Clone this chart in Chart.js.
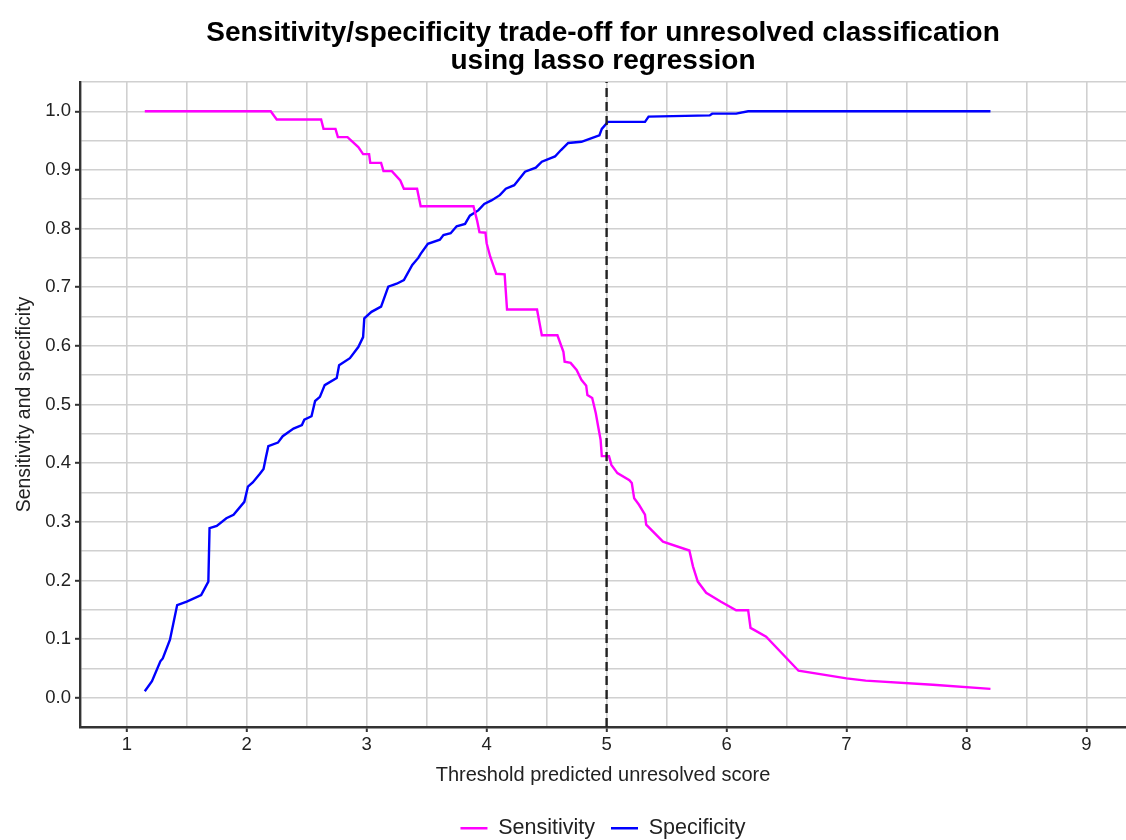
<!DOCTYPE html>
<html>
<head>
<meta charset="utf-8">
<title>Sensitivity/specificity trade-off</title>
<script src="https://cdn.jsdelivr.net/npm/chart.js@4.4.1/dist/chart.umd.min.js"></script>
<style>
  html, body { margin: 0; padding: 0; background: #fff; }
  #wrap { width: 1126px; height: 840px; }
</style>
</head>
<body>
<div id="wrap"><canvas id="tradeOff" width="1126" height="840"></canvas></div>
<script>
// values
const sensX = [1.15, 2.20, 2.25, 2.62, 2.64, 2.74, 2.76, 2.84, 2.93, 2.97, 3.02, 3.03, 3.12, 3.14, 3.21, 3.28, 3.31, 3.42, 3.45, 3.89,
  3.92, 3.94, 3.99, 4.00, 4.03, 4.08, 4.15, 4.17, 4.42, 4.46, 4.59, 4.64, 4.65, 4.70, 4.75, 4.79, 4.83, 4.84, 4.88, 4.91,
  4.93, 4.95, 4.96, 5.02, 5.04, 5.09, 5.19, 5.21, 5.23, 5.27, 5.32, 5.33, 5.47, 5.69, 5.72, 5.76, 5.83, 5.95, 6.08, 6.18,
  6.20, 6.33, 6.60, 7.00, 7.16, 7.72, 8.20]
const sensY = [1.0, 1.0, 0.986, 0.986, 0.970, 0.970, 0.956, 0.956, 0.939, 0.927, 0.927, 0.912, 0.912, 0.898, 0.898, 0.882, 0.868, 0.868, 0.838, 0.838,
  0.814, 0.794, 0.793, 0.775, 0.752, 0.723, 0.722, 0.662, 0.662, 0.618, 0.618, 0.590, 0.573, 0.571, 0.559, 0.542, 0.532, 0.516, 0.511, 0.485,
  0.462, 0.440, 0.412, 0.412, 0.397, 0.383, 0.371, 0.366, 0.340, 0.329, 0.312, 0.295, 0.266, 0.251, 0.224, 0.198, 0.179, 0.164, 0.149, 0.149,
  0.119, 0.104, 0.046, 0.033, 0.029, 0.022, 0.015]

const specX = [1.15, 1.21, 1.28, 1.30, 1.36, 1.42, 1.50, 1.62, 1.68, 1.69, 1.75, 1.83, 1.89, 1.98, 2.01, 2.05, 2.11, 2.14, 2.16, 2.18,
  2.26, 2.30, 2.39, 2.46, 2.48, 2.54, 2.57, 2.61, 2.65, 2.75, 2.77, 2.86, 2.93, 2.97, 2.98, 3.04, 3.12, 3.18, 3.25, 3.31,
  3.38, 3.43, 3.45, 3.51, 3.61, 3.64, 3.70, 3.75, 3.82, 3.86, 3.93, 3.98, 4.04, 4.11, 4.16, 4.23, 4.32, 4.41, 4.46, 4.57,
  4.62, 4.68, 4.79, 4.91, 4.94, 4.96, 5.01, 5.32, 5.35, 5.86, 5.88, 6.08, 6.18, 8.20]
const specY = [0.011, 0.028, 0.062, 0.067, 0.099, 0.158, 0.164, 0.175, 0.198, 0.289, 0.293, 0.306, 0.312, 0.334, 0.360, 0.367, 0.382, 0.390, 0.410, 0.429,
  0.435, 0.446, 0.459, 0.465, 0.474, 0.480, 0.506, 0.513, 0.533, 0.545, 0.567, 0.579, 0.598, 0.615, 0.647, 0.658, 0.667, 0.701, 0.706, 0.712,
  0.738, 0.750, 0.757, 0.774, 0.781, 0.789, 0.792, 0.804, 0.808, 0.822, 0.831, 0.842, 0.848, 0.857, 0.868, 0.874, 0.897, 0.904, 0.914, 0.923,
  0.934, 0.946, 0.948, 0.957, 0.959, 0.970, 0.982, 0.982, 0.991, 0.993, 0.996, 0.996, 1.0, 1.0]

const cutoff = 5
const xTickLabels = ['1', '2', '3', '4', '5', '6', '7', '8', '9']
const yTickLabels = ['0.0', '0.1', '0.2', '0.3', '0.4', '0.5', '0.6', '0.7', '0.8', '0.9', '1.0']

const xMin = 0.61, xMax = 9.33
const yMin = -0.05, yMax = 1.05

const toPoints = (xs, ys) => xs.map((x, i) => ({ x: x, y: ys[i] }))

// major ticks from the labels, minor ones half way between (ggplot style grid)
const makeTicks = (labels, min, max) => {
    const majors = labels.map(Number)
    const step = majors[1] - majors[0]
    const ticks = []
    majors.forEach((v, i) => {
        if (i === 0) ticks.push({ value: v - step / 2, major: false })
        ticks.push({ value: v, major: true })
        ticks.push({ value: v + step / 2, major: false })
    })
    return ticks
        .map(t => ({ value: Math.round(t.value * 1000) / 1000, major: t.major }))
        .filter(t => t.value >= min - 1e-9 && t.value <= max + 1e-9)
}

const labelFor = (labels) => (value) => {
    const idx = labels.findIndex(l => Math.abs(Number(l) - value) < 1e-6)
    return idx >= 0 ? labels[idx] : ''
}

const gridColor = '#d0d0d0'
const axisColor = '#333333'
const textColor = '#222222'
const family = "'Liberation Sans', Arial, Helvetica, sans-serif"

const ctx = document.querySelector('#tradeOff')
const tradeOffChart = new Chart(ctx, {
    type: 'scatter',
    data: {
        datasets: [
            {
                label: 'cutoff',
                data: [{ x: cutoff, y: yMin }, { x: cutoff, y: yMax }],
                showLine: true,
                borderColor: '#222222',
                borderWidth: 2.4,
                borderDash: [9, 5],
                pointRadius: 0
            },
            {
                label: 'Sensitivity',
                data: toPoints(sensX, sensY),
                showLine: true,
                borderColor: '#ff00ff',
                backgroundColor: '#ff00ff',
                borderWidth: 2.4,
                pointRadius: 0,
                tension: 0
            },
            {
                label: 'Specificity',
                data: toPoints(specX, specY),
                showLine: true,
                borderColor: '#0000ff',
                backgroundColor: '#0000ff',
                borderWidth: 2.4,
                pointRadius: 0,
                tension: 0
            }
        ]
    },
    options: {
        responsive: false,
        animation: false,
        devicePixelRatio: 1,
        layout: { padding: { left: 0, right: 0, top: 0, bottom: -9 } },
        plugins: {
            title: {
                display: true,
                fullSize: false,
                text: ['Sensitivity/specificity trade-off for unresolved classification', 'using lasso regression'],
                color: '#000000',
                font: { family: family, size: 28, weight: 'bold', lineHeight: 1.0 },
                padding: { top: 19.6, bottom: 6.4 }
            },
            legend: {
                position: 'bottom',
                fullSize: false,
                labels: {
                    filter: (item) => item.text !== 'cutoff',
                    usePointStyle: true,
                    pointStyle: 'line',
                    pointStyleWidth: 27,
                    padding: 16,
                    color: textColor,
                    font: { family: family, size: 21.5 }
                }
            },
            tooltip: { enabled: false }
        },
        scales: {
            x: {
                type: 'linear',
                min: xMin,
                max: xMax,
                afterBuildTicks: (scale) => { scale.ticks = makeTicks(xTickLabels, xMin, xMax) },
                afterFit: (scale) => { scale.height = 74.5 },
                ticks: {
                    autoSkip: false,
                    maxRotation: 0,
                    padding: 2,
                    color: textColor,
                    font: { family: family, size: 18.5 },
                    callback: labelFor(xTickLabels)
                },
                grid: {
                    color: gridColor,
                    lineWidth: 1.6,
                    tickLength: 5,
                    tickWidth: 2,
                    tickColor: (c) => (c.tick && c.tick.major ? axisColor : 'rgba(0,0,0,0)')
                },
                border: { display: true, color: axisColor, width: 2.4 },
                title: {
                    display: true,
                    text: 'Threshold predicted unresolved score',
                    color: textColor,
                    font: { family: family, size: 20 },
                    padding: { top: 4, bottom: 14.5 }
                }
            },
            y: {
                type: 'linear',
                min: yMin,
                max: yMax,
                afterBuildTicks: (scale) => { scale.ticks = makeTicks(yTickLabels, yMin, yMax) },
                afterFit: (scale) => { scale.width = 80 },
                ticks: {
                    autoSkip: false,
                    padding: 4,
                    color: textColor,
                    font: { family: family, size: 18.5 },
                    callback: labelFor(yTickLabels)
                },
                grid: {
                    color: gridColor,
                    lineWidth: 1.6,
                    tickLength: 5,
                    tickWidth: 2,
                    tickColor: (c) => (c.tick && c.tick.major ? axisColor : 'rgba(0,0,0,0)')
                },
                border: { display: true, color: axisColor, width: 2.4 },
                title: {
                    display: true,
                    text: 'Sensitivity and specificity',
                    color: textColor,
                    font: { family: family, size: 19.5 },
                    padding: { top: 13, bottom: 4 }
                }
            }
        }
    }
})
</script>
</body>
</html>
